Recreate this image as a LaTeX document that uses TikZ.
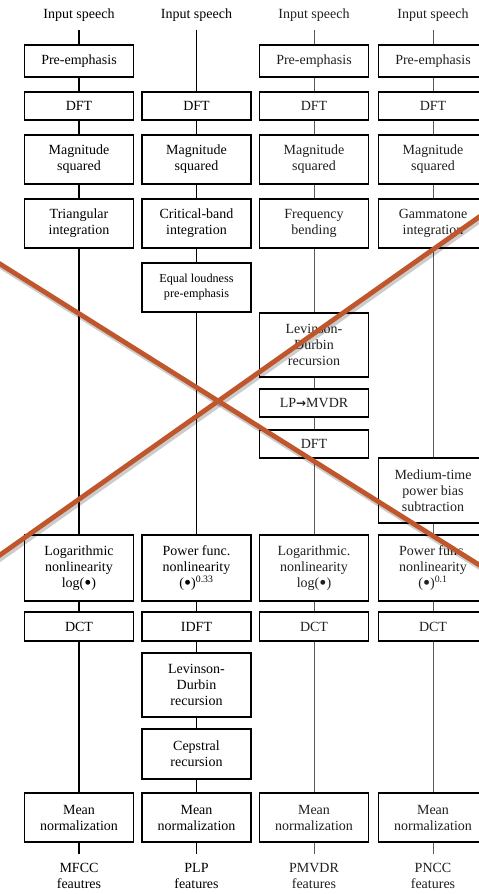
\documentclass[tikz,border=0pt]{standalone}
\usepackage{fontspec}
\usepackage{graphicx}
\setmainfont{Liberation Serif}
\newfontfamily\arrowfont{DejaVu Sans}
% heavier bullet and arrow glyphs for the formulas
\newcommand\blt{\raisebox{-0.35ex}{\scalebox{1.45}{•}}}
\newcommand\heavyarrow{{\arrowfont\bfseries\fontsize{12}{12}\selectfont →}}
\begin{document}
\begin{tikzpicture}[x=1pt, y=-1pt,
  every node/.style={font=\fontsize{14}{16}\selectfont, inner sep=0pt},
  box/.style={draw, line width=1.1pt, align=center, minimum width=109pt},
  smallbox/.style={box, font=\fontsize{12.2}{15}\selectfont},
  lbl/.style={align=center},
  wire/.style={line width=1.3pt},
  thinwire/.style={line width=0.8pt, black!65},
  soft/.style={text=black!88},
  crossline/.style={line width=4.8pt, color=cross},
  crossshade/.style={line width=6pt, black, opacity=0.2}
]
\definecolor{cross}{RGB}{192,86,44}
\useasboundingbox (0,0) rectangle (479,894);
\clip (0,0) rectangle (479,894);

% ---------- MFCC ----------
\node[lbl] (a0) at (79,15) {Input speech};
\node[box, minimum height=32pt] (a1) at (79,61) {Pre-emphasis};
\node[box, minimum height=28pt] (a2) at (79,106) {DFT};
\node[box, minimum height=49pt] (a3) at (79,159.5) {Magnitude\\squared};
\node[box, minimum height=49pt] (a4) at (79,223.5) {Triangular\\integration};
\node[box, minimum height=66pt] (a5) at (79,568) {Logarithmic\\nonlinearity\\log(\blt)};
\node[box, minimum height=29pt] (a6) at (79,626.5) {DCT};
\node[box, minimum height=49pt] (a7) at (79,817.5) {Mean\\normalization};
\node[lbl] (a8) at (79,876) {MFCC\\feautres};

% ---------- PLP ----------
\node[lbl] (b0) at (196.5,15) {Input speech};
\node[box, minimum height=28pt] (b2) at (196.5,106) {DFT};
\node[box, minimum height=49pt] (b3) at (196.5,159.5) {Magnitude\\squared};
\node[box, minimum height=49pt] (b4) at (196.5,223.5) {Critical-band\\integration};
\node[smallbox, minimum height=49pt] (b5) at (196.5,287.5) {Equal loudness\\pre-emphasis};
\node[box, minimum height=66pt] (b6) at (196.5,568) {Power func.\\nonlinearity\\(\blt)\textsuperscript{0.33}};
\node[box, minimum height=29pt] (b7) at (196.5,626.5) {IDFT};
\node[box, minimum height=64pt] (b8) at (196.5,685) {Levinson-\\Durbin\\recursion};
\node[box, minimum height=50pt] (b9) at (196.5,754) {Cepstral\\recursion};
\node[box, minimum height=49pt] (b10) at (196.5,817.5) {Mean\\normalization};
\node[lbl] (b11) at (196.5,876) {PLP\\features};

% ---------- PMVDR ----------
\begin{scope}[every node/.append style={soft}]
\node[lbl] (c0) at (314,15) {Input speech};
\node[box, minimum height=32pt] (c1) at (314,61) {Pre-emphasis};
\node[box, minimum height=28pt] (c2) at (314,106) {DFT};
\node[box, minimum height=49pt] (c3) at (314,159.5) {Magnitude\\squared};
\node[box, minimum height=49pt] (c4) at (314,223.5) {Frequency\\bending};
\node[box, minimum height=64pt] (c5) at (314,345) {Levinson-\\Durbin\\recursion};
\node[box, minimum height=28pt] (c6) at (314,403) {LP\heavyarrow MVDR};
\node[box, minimum height=28pt] (c7) at (314,444) {DFT};
\node[box, minimum height=66pt] (c8) at (314,568) {Logarithmic.\\nonlinearity\\log(\blt)};
\node[box, minimum height=29pt] (c9) at (314,626.5) {DCT};
\node[box, minimum height=49pt] (c10) at (314,817.5) {Mean\\normalization};
\node[lbl] (c11) at (314,876) {PMVDR\\features};

% ---------- PNCC ----------
\node[lbl] (d0) at (433,15) {Input speech};
\node[box, minimum height=32pt] (d1) at (433,61) {Pre-emphasis};
\node[box, minimum height=28pt] (d2) at (433,106) {DFT};
\node[box, minimum height=49pt] (d3) at (433,159.5) {Magnitude\\squared};
\node[box, minimum height=49pt] (d4) at (433,223.5) {Gammatone\\integration};
\node[box, minimum height=65pt] (d5) at (433,490.5) {Medium-time\\power bias\\subtraction};
\node[box, minimum height=66pt] (d6) at (433,568) {Power func.\\nonlinearity\\(\blt)\textsuperscript{0.1}};
\node[box, minimum height=29pt] (d7) at (433,626.5) {DCT};
\node[box, minimum height=49pt] (d8) at (433,817.5) {Mean\\normalization};
\node[lbl] (d9) at (433,876) {PNCC\\features};
\end{scope}

% ---------- signal flow ----------
\draw[wire] (a0.south) ++(0,8) -- (a1.north);
\foreach \u/\v in {a1/a2, a2/a3, a3/a4, a4/a5, a5/a6, a6/a7}
  \draw[wire] (\u.south) -- (\v.north);
\draw[wire] (a7.south) -- ++(0,11);

\draw[wire] (b0.south) ++(0,8) -- (b2.north);
\foreach \u/\v in {b2/b3, b3/b4, b4/b5, b5/b6, b6/b7, b7/b8, b8/b9, b9/b10}
  \draw[wire] (\u.south) -- (\v.north);
\draw[wire] (b10.south) -- ++(0,11);

\draw[thinwire] (c0.south) ++(0,8) -- (c1.north);
\foreach \u/\v in {c1/c2, c2/c3, c3/c4, c4/c5, c5/c6, c6/c7, c7/c8, c8/c9, c9/c10}
  \draw[thinwire] (\u.south) -- (\v.north);
\draw[thinwire] (c10.south) -- ++(0,11);

\draw[thinwire] (d0.south) ++(0,8) -- (d1.north);
\foreach \u/\v in {d1/d2, d2/d3, d3/d4, d4/d5, d5/d6, d6/d7, d7/d8}
  \draw[thinwire] (\u.south) -- (\v.north);
\draw[thinwire] (d8.south) -- ++(0,11);

% ---------- crossing strokes ----------
\coordinate (x1a) at (-20,251.4);
\coordinate (x1b) at (500,578);
\coordinate (x2a) at (-20,569.1);
\coordinate (x2b) at (500,202.2);
\draw[crossshade] ([shift={(1.5,2.5)}]x1a) -- ([shift={(1.5,2.5)}]x1b);
\draw[crossshade] ([shift={(1.5,2.5)}]x2a) -- ([shift={(1.5,2.5)}]x2b);
\draw[crossline] (x1a) -- (x1b);
\draw[crossline] (x2a) -- (x2b);
\end{tikzpicture}
\end{document}
